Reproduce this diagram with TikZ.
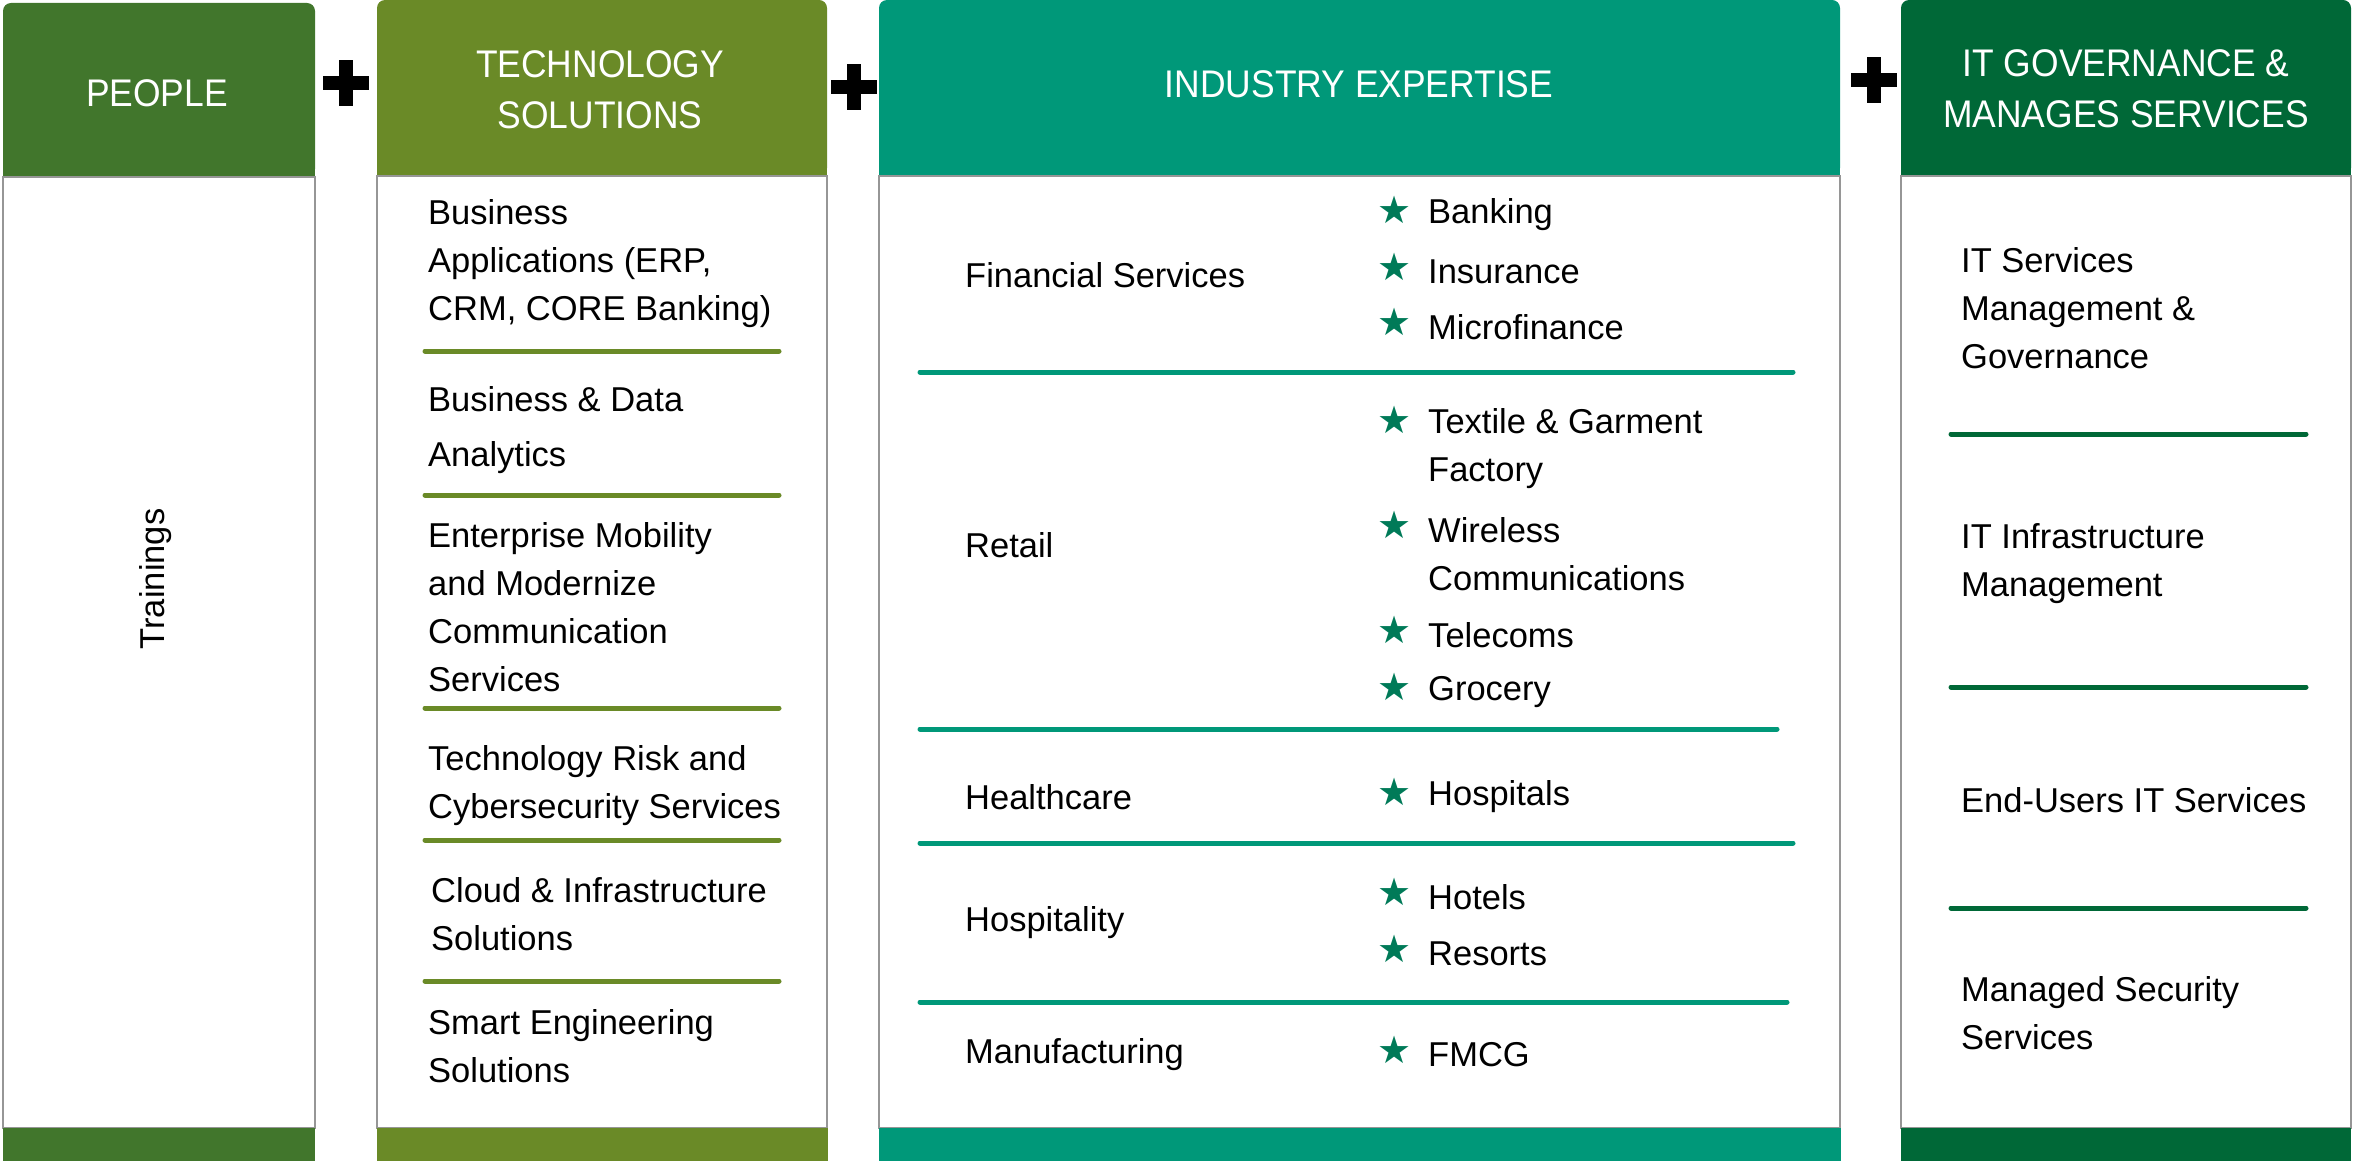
\documentclass[tikz,border=0pt]{standalone}
\usepackage{fontspec}
\setmainfont{Liberation Sans}
\newfontfamily\headfont[FakeStretch=0.92]{Liberation Sans}
\newfontfamily\starfont{DejaVu Sans}
\definecolor{peoplegreen}{RGB}{65,118,44}
\definecolor{techolive}{RGB}{106,138,39}
\definecolor{industryteal}{RGB}{0,152,121}
\definecolor{govgreen}{RGB}{0,104,55}
\definecolor{stargreen}{RGB}{0,122,88}
\definecolor{boxgray}{RGB}{150,150,150}

\begin{document}
\begin{tikzpicture}[x=1pt, y=-1pt,
  headtext/.style={text=white, inner sep=0, align=center, font=\headfont\fontsize{38.5}{51}\selectfont},
  bodytext/.style={inner sep=0, anchor=west, align=left, font=\fontsize{34.5}{48}\selectfont},
  staricon/.style={inner sep=0, text=stargreen, font=\starfont\fontsize{38}{38}\selectfont},
  boxline/.style={draw=boxgray, line width=2},
  sepline/.style={line width=5, line cap=round}]
\useasboundingbox (0,0) rectangle (2353,1161);

% headers
\fill[peoplegreen, rounded corners=8] (3,3) rectangle (315,177);
\fill[peoplegreen] (3,140) rectangle (315,177);
\fill[techolive, rounded corners=8] (377,0) rectangle (827,176);
\fill[techolive] (377,140) rectangle (827,176);
\fill[industryteal, rounded corners=8] (879,0) rectangle (1840,176);
\fill[industryteal] (879,140) rectangle (1840,176);
\fill[govgreen, rounded corners=8] (1901,0) rectangle (2351,176);
\fill[govgreen] (1901,140) rectangle (2351,176);

\node[headtext] (people) at (157,93) {PEOPLE};
\node[headtext] (tech) at (600,90) {TECHNOLOGY\\SOLUTIONS};
\node[headtext] (industry) at (1359,84) {INDUSTRY EXPERTISE};
\node[headtext] (gov) at (2126,89) {IT GOVERNANCE \&\\MANAGES SERVICES};

% plus signs
\foreach \px/\py in {346/83.5, 854/87, 1874/80} {
  \fill (\px-23,\py-7) rectangle (\px+23,\py+7);
  \fill (\px-7,\py-23) rectangle (\px+7,\py+23);
}

% bodies
\draw[boxline] (3,177) rectangle (315,1128);
\draw[boxline] (377,176) rectangle (827,1128);
\draw[boxline] (879,176) rectangle (1840,1128);
\draw[boxline] (1901,176) rectangle (2351,1128);

% bottom bars
\fill[peoplegreen] (3,1128) rectangle (315,1161);
\fill[techolive] (377,1128) rectangle (828,1161);
\fill[industryteal] (879,1128) rectangle (1841,1161);
\fill[govgreen] (1901,1128) rectangle (2351,1161);

% people
\node[bodytext, anchor=center, rotate=90] (trainings) at (156,579) {Trainings};

% technology solutions
\node[bodytext] (erp) at (428,264) {Business\\Applications (ERP,\\CRM, CORE Banking)};
\node[bodytext, font=\fontsize{34.5}{55}\selectfont] (analytics) at (428,430) {Business \& Data\\Analytics};
\node[bodytext] (mobility) at (428,607) {Enterprise Mobility\\and Modernize\\Communication\\Services};
\node[bodytext] (risk) at (428,786) {Technology Risk and\\Cybersecurity Services};
\node[bodytext] (cloud) at (431,914) {Cloud \& Infrastructure\\Solutions};
\node[bodytext] (smart) at (428,1046) {Smart Engineering\\Solutions};
\foreach \sy in {351, 495, 708, 840, 981}
  \draw[sepline, techolive] (425,\sy) -- (779,\sy);

% industry expertise
\node[bodytext] (financial) at (965,275) {Financial Services};
\node[bodytext] (retail) at (965,545) {Retail};
\node[bodytext] (health) at (965,797) {Healthcare};
\node[bodytext] (hospitality) at (965,923) {Hospitality};
\node[bodytext] (manufacturing) at (965,1055) {Manufacturing};

\foreach \sy in {210, 267, 322, 420, 525, 630, 687, 792, 892, 949, 1050}
  \node[staricon] at (1395,\sy) {★};
\node[bodytext] (banking) at (1428,215) {Banking};
\node[bodytext] (insurance) at (1428,272) {Insurance};
\node[bodytext] (microfinance) at (1428,327) {Microfinance};
\node[bodytext] (textile) at (1428,449) {Textile \& Garment\\Factory};
\node[bodytext] (wireless) at (1428,554) {Wireless\\Communications};
\node[bodytext] (telecoms) at (1428,635) {Telecoms};
\node[bodytext] (grocery) at (1428,692) {Grocery};
\node[bodytext] (hospitals) at (1428,797) {Hospitals};
\node[bodytext] (hotels) at (1428,897) {Hotels};
\node[bodytext] (resorts) at (1428,954) {Resorts};
\node[bodytext] (fmcg) at (1428,1055) {FMCG};

\draw[sepline, industryteal] (920,372) -- (1793,372);
\draw[sepline, industryteal] (920,729) -- (1777,729);
\draw[sepline, industryteal] (920,843) -- (1793,843);
\draw[sepline, industryteal] (920,1002) -- (1787,1002);

% it governance
\node[bodytext] (itsm) at (1961,308) {IT Services\\Management \&\\Governance};
\node[bodytext] (infra) at (1961,564) {IT Infrastructure\\Management};
\node[bodytext] (enduser) at (1961,800) {End-Users IT Services};
\node[bodytext] (security) at (1961,1013) {Managed Security\\Services};
\foreach \sy in {434, 687, 908}
  \draw[sepline, govgreen] (1951,\sy) -- (2306,\sy);

\end{tikzpicture}
\end{document}
